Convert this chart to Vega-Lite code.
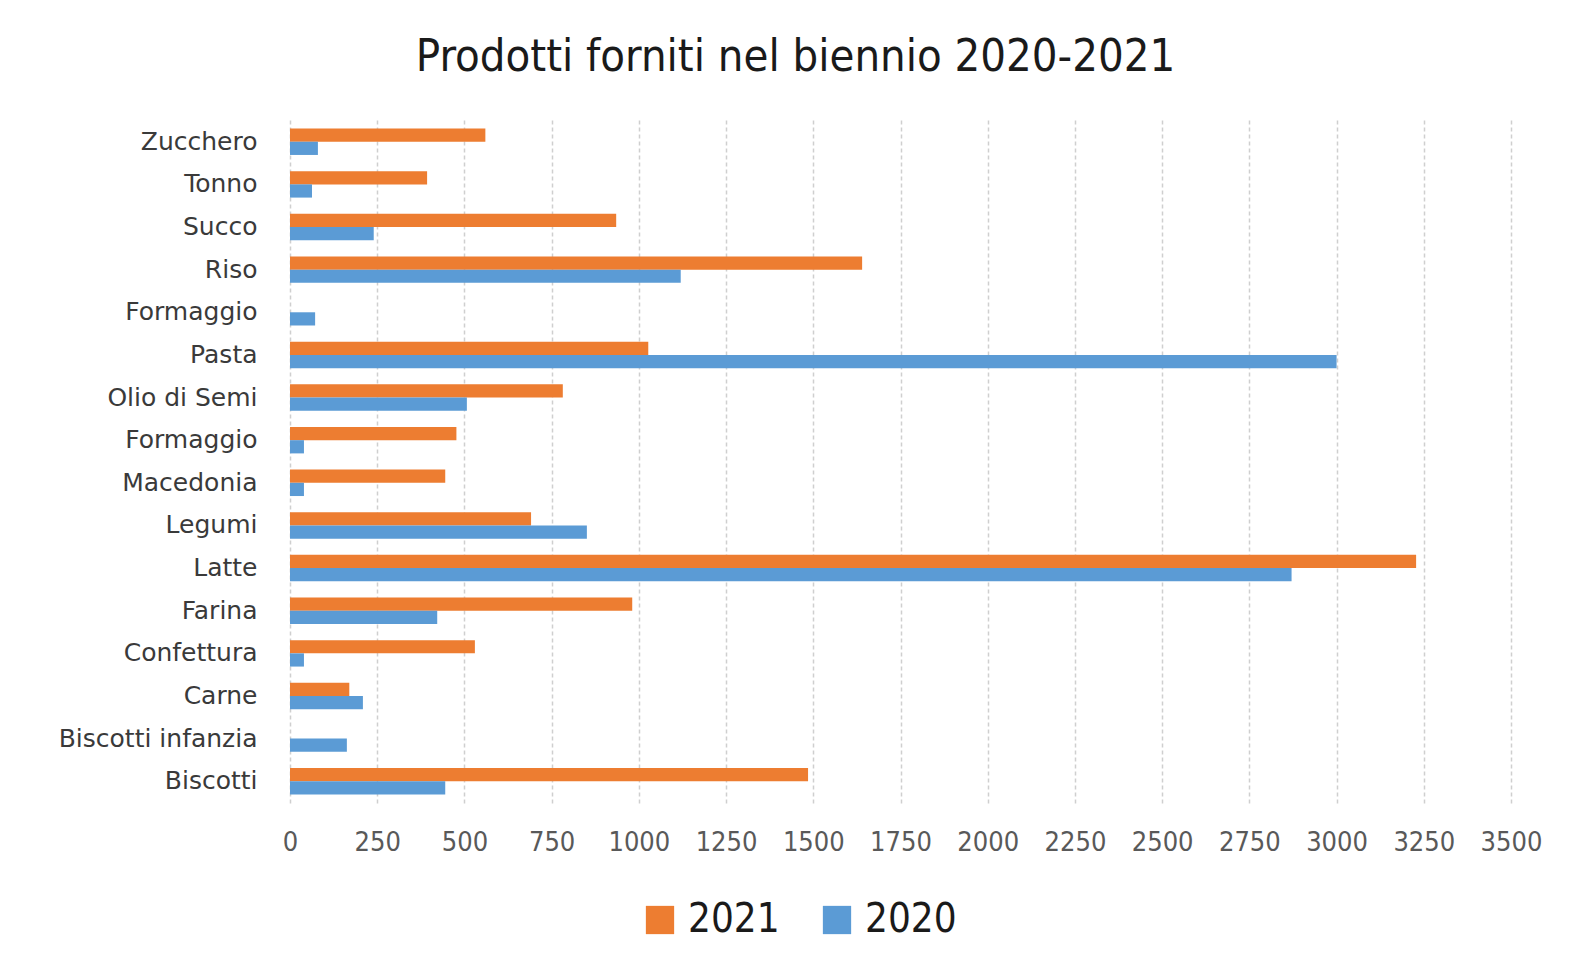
{
  "$schema": "https://vega.github.io/schema/vega-lite/v6.json",
  "autosize": "none",
  "width": 1221,
  "height": 683,
  "padding": {"left": 290, "top": 120, "right": 59, "bottom": 161},
  "background": "white",
  "title": {
    "text": "Prodotti forniti nel biennio 2020-2021",
    "font": "DejaVu Sans Condensed",
    "fontSize": 45,
    "fontWeight": "normal",
    "color": "#1a1a1a",
    "anchor": "middle",
    "dx": -105,
    "offset": 40
  },
  "data": {
    "values": [
      {"prodotto": "Zucchero", "anno": "2021", "quantita": 560},
      {"prodotto": "Zucchero", "anno": "2020", "quantita": 80},
      {"prodotto": "Tonno", "anno": "2021", "quantita": 393},
      {"prodotto": "Tonno", "anno": "2020", "quantita": 63},
      {"prodotto": "Succo", "anno": "2021", "quantita": 935},
      {"prodotto": "Succo", "anno": "2020", "quantita": 240},
      {"prodotto": "Riso", "anno": "2021", "quantita": 1640},
      {"prodotto": "Riso", "anno": "2020", "quantita": 1120},
      {"prodotto": "Formaggio#1", "anno": "2021", "quantita": 0},
      {"prodotto": "Formaggio#1", "anno": "2020", "quantita": 72},
      {"prodotto": "Pasta", "anno": "2021", "quantita": 1027},
      {"prodotto": "Pasta", "anno": "2020", "quantita": 3000},
      {"prodotto": "Olio di Semi", "anno": "2021", "quantita": 782},
      {"prodotto": "Olio di Semi", "anno": "2020", "quantita": 507},
      {"prodotto": "Formaggio#2", "anno": "2021", "quantita": 477},
      {"prodotto": "Formaggio#2", "anno": "2020", "quantita": 40},
      {"prodotto": "Macedonia", "anno": "2021", "quantita": 445},
      {"prodotto": "Macedonia", "anno": "2020", "quantita": 40},
      {"prodotto": "Legumi", "anno": "2021", "quantita": 691},
      {"prodotto": "Legumi", "anno": "2020", "quantita": 851},
      {"prodotto": "Latte", "anno": "2021", "quantita": 3228},
      {"prodotto": "Latte", "anno": "2020", "quantita": 2871},
      {"prodotto": "Farina", "anno": "2021", "quantita": 981},
      {"prodotto": "Farina", "anno": "2020", "quantita": 422},
      {"prodotto": "Confettura", "anno": "2021", "quantita": 530},
      {"prodotto": "Confettura", "anno": "2020", "quantita": 40},
      {"prodotto": "Carne", "anno": "2021", "quantita": 170},
      {"prodotto": "Carne", "anno": "2020", "quantita": 209},
      {"prodotto": "Biscotti infanzia", "anno": "2021", "quantita": 0},
      {"prodotto": "Biscotti infanzia", "anno": "2020", "quantita": 163},
      {"prodotto": "Biscotti", "anno": "2021", "quantita": 1485},
      {"prodotto": "Biscotti", "anno": "2020", "quantita": 445}
    ]
  },
  "mark": {"type": "bar"},
  "encoding": {
    "y": {
      "field": "prodotto",
      "type": "nominal",
      "sort": null,
      "scale": {"paddingInner": 0.38, "paddingOuter": 0.2},
      "axis": {
        "title": null,
        "domain": false,
        "ticks": false,
        "grid": false,
        "labelExpr": "replace(datum.label, /#\\d$/, '')",
        "labelFont": "DejaVu Sans",
        "labelFontSize": 25,
        "labelColor": "#3a3a3a",
        "labelPadding": 33,
        "labelLimit": 400
      }
    },
    "yOffset": {
      "field": "anno",
      "type": "nominal",
      "sort": ["2021", "2020"]
    },
    "x": {
      "field": "quantita",
      "type": "quantitative",
      "scale": {"domain": [0, 3500], "nice": false},
      "axis": {
        "title": null,
        "values": [0, 250, 500, 750, 1000, 1250, 1500, 1750, 2000, 2250, 2500, 2750, 3000, 3250, 3500],
        "format": "d",
        "domain": false,
        "ticks": false,
        "grid": true,
        "gridColor": "#cfcfcf",
        "gridDash": [4, 3],
        "gridWidth": 1.5,
        "labelFont": "DejaVu Sans Condensed",
        "labelFontSize": 27,
        "labelColor": "#595959",
        "labelPadding": 26,
        "labelFlush": false
      }
    },
    "color": {
      "field": "anno",
      "type": "nominal",
      "scale": {"domain": ["2021", "2020"], "range": ["#ED7D31", "#5B9BD5"]},
      "legend": {
        "title": null,
        "orient": "none",
        "direction": "horizontal",
        "legendX": 350,
        "legendY": 780,
        "symbolType": "square",
        "symbolSize": 800,
        "symbolStrokeWidth": 0,
        "labelFont": "DejaVu Sans Condensed",
        "labelFontSize": 40,
        "labelColor": "#1a1a1a",
        "columnPadding": 37,
        "labelOffset": 8
      }
    }
  },
  "config": {"view": {"stroke": null}}
}
